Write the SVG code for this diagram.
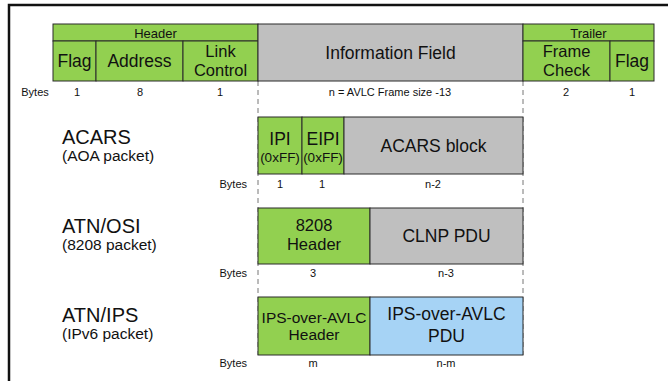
<svg xmlns="http://www.w3.org/2000/svg" width="668" height="381" viewBox="0 0 668 381">
<style>
text{font-family:"Liberation Sans",Arial,sans-serif;fill:#111}
.g{fill:#92D050;stroke:#2a2a2a;stroke-width:1}
.s{fill:#BFBFBF;stroke:#2a2a2a;stroke-width:1}
.b{fill:#A6D3F5;stroke:#2a2a2a;stroke-width:1}
.c{text-anchor:middle}
.f16{font-size:17.5px}
.f2{font-size:16.5px}
.f12{font-size:13px}
.f10{font-size:11px}
.f18{font-size:20px}
.f14{font-size:15.5px}
.f13{font-size:13.5px}
.d{stroke:#777;stroke-width:1;stroke-dasharray:5,4;fill:none}
</style>
<rect x="0" y="0" width="668" height="381" fill="#fff"/>
<path d="M9,381 V5 H668" fill="none" stroke="#111" stroke-width="2.5"/>
<g id="connectors">
<line class="d" x1="258" y1="81" x2="258" y2="355"/>
<line class="d" x1="523" y1="81" x2="523" y2="355"/>
</g>
<g id="header">
<rect class="g" x="53" y="24" width="205" height="17"/>
<text class="c f12" x="155.5" y="37.5">Header</text>
<rect class="g" x="53" y="41" width="43" height="40"/>
<text class="c f16" x="74.5" y="67">Flag</text>
<rect class="g" x="96" y="41" width="87" height="40"/>
<text class="c f16" x="139.5" y="67">Address</text>
<rect class="g" x="183" y="41" width="75" height="40"/>
<text class="c f2" x="220.5" y="56.5">Link</text>
<text class="c f2" x="220.5" y="75.5">Control</text>
</g>
<g id="info">
<rect class="s" x="258" y="24" width="265" height="57"/>
<text class="c f16" x="390.5" y="59">Information  Field</text>
</g>
<g id="trailer">
<rect class="g" x="523" y="24" width="131" height="17"/>
<text class="c f12" x="588.5" y="37.5">Trailer</text>
<rect class="g" x="523" y="41" width="87" height="40"/>
<text class="c f2" x="566.5" y="56.5">Frame</text>
<text class="c f2" x="566.5" y="75.5">Check</text>
<rect class="g" x="610" y="41" width="44" height="40"/>
<text class="c f16" x="632" y="67">Flag</text>
</g>
<g id="bytes-top" class="f10">
<text class="c" x="35" y="96">Bytes</text>
<text class="c" x="77" y="96">1</text>
<text class="c" x="140" y="96">8</text>
<text class="c" x="220" y="96">1</text>
<text class="c" x="390" y="96">n = AVLC Frame size -13</text>
<text class="c" x="566" y="96">2</text>
<text class="c" x="632" y="96">1</text>
</g>
<g id="acars">
<text class="f18" x="62" y="144">ACARS</text>
<text class="f14" x="62" y="161">(AOA packet)</text>
<rect class="g" x="258" y="117" width="44" height="57"/>
<text class="c f16" x="280" y="145">IPI</text>
<text class="c f13" x="280" y="162">(0xFF)</text>
<rect class="g" x="302" y="117" width="42" height="57"/>
<text class="c f16" x="323" y="145">EIPI</text>
<text class="c f13" x="323" y="162">(0xFF)</text>
<rect class="s" x="344" y="117" width="179" height="57"/>
<text class="c f16" x="433.5" y="152">ACARS block</text>
<g class="f10">
<text x="247" y="188" text-anchor="end">Bytes</text>
<text class="c" x="280" y="188">1</text>
<text class="c" x="322" y="188">1</text>
<text class="c" x="433" y="188">n-2</text>
</g>
</g>
<g id="atnosi">
<text class="f18" x="62" y="233">ATN/OSI</text>
<text class="f14" x="62" y="250">(8208 packet)</text>
<rect class="g" x="258" y="208" width="112" height="56"/>
<text class="c f2" x="314" y="231">8208</text>
<text class="c f2" x="314" y="250">Header</text>
<rect class="s" x="370" y="208" width="153" height="56"/>
<text class="c f16" x="446.5" y="242">CLNP PDU</text>
<g class="f10">
<text x="247" y="277" text-anchor="end">Bytes</text>
<text class="c" x="313" y="277">3</text>
<text class="c" x="446" y="277">n-3</text>
</g>
</g>
<g id="atnips">
<text class="f18" x="62" y="322">ATN/IPS</text>
<text class="f14" x="62" y="339">(IPv6 packet)</text>
<rect class="g" x="258" y="297" width="112" height="58"/>
<text class="c f14" x="314" y="323">IPS-over-AVLC</text>
<text class="c f14" x="314" y="340">Header</text>
<rect class="b" x="370" y="297" width="153" height="58"/>
<text class="c f16" x="446.5" y="320">IPS-over-AVLC</text>
<text class="c f16" x="446.5" y="342">PDU</text>
<g class="f10">
<text x="247" y="367" text-anchor="end">Bytes</text>
<text class="c" x="313" y="367">m</text>
<text class="c" x="446" y="367">n-m</text>
</g>
</g>
</svg>
